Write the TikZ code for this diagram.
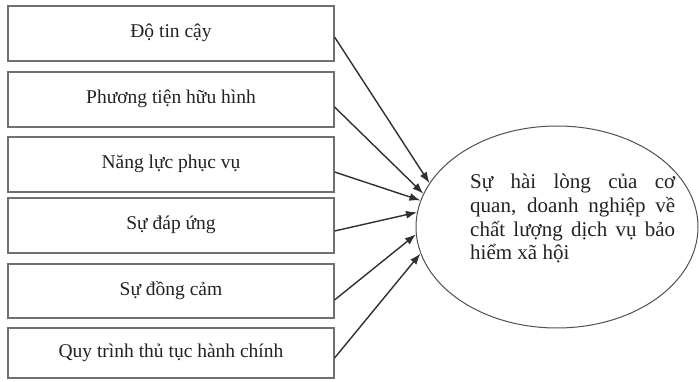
\documentclass[tikz,border=0pt]{standalone}
\usepackage{fontspec}
\setmainfont{Liberation Serif}
\usetikzlibrary{arrows.meta,shapes.geometric}
\definecolor{boxgray}{HTML}{707070}
\definecolor{inkgray}{HTML}{222222}
\definecolor{linkgray}{HTML}{303030}
\definecolor{rimgray}{HTML}{505050}
\newlength{\goalw}
\setlength{\goalw}{205pt}
\begin{document}
\begin{tikzpicture}[x=1pt,y=-1pt,
  factor/.style={draw=boxgray, line width=1.1pt, minimum width=326pt,
    inner sep=0pt, text height=13pt, text depth=4pt,
    font=\fontsize{19.5}{23.7}\selectfont, text=inkgray},
  link/.style={draw=linkgray, line width=1.4pt,
    -{Latex[length=11pt,width=8pt]}},
  goalshape/.style={draw=rimgray, line width=1pt, ellipse,
    minimum width=282pt, minimum height=202pt, inner sep=0pt},
  goaltextstyle/.style={inner sep=0pt, align=left, text=inkgray,
    font=\fontsize{21}{23.7}\selectfont},
]
\useasboundingbox (0,0) rectangle (699,382);

% factor boxes
\node[factor, minimum height=55pt] (f1) at (171,33.5)  {Độ tin cậy};
\node[factor, minimum height=55pt] (f2) at (171,99.5)  {Phương tiện hữu hình};
\node[factor, minimum height=55pt] (f3) at (171,164.5) {Năng lực phục vụ};
\node[factor, minimum height=55pt] (f4) at (171,225.5) {Sự đáp ứng};
\node[factor, minimum height=54pt] (f5) at (171,291)   {Sự đồng cảm};
\node[factor, minimum height=50pt] (f6) at (171,353)   {Quy trình thủ tục hành chính};

% outcome ellipse; the text block's base anchor sits on its last line
\node[goalshape] (goal) at (557,227) {};
\node[goaltextstyle, anchor=base west] (goaltext) at (470,260)
  {\makebox[\goalw][s]{Sự hài lòng của cơ}\\
   \makebox[\goalw][s]{quan, doanh nghiệp về}\\
   \makebox[\goalw][s]{chất lượng dịch vụ bảo}\\
   hiểm xã hội};

% arrows into the ellipse
\draw[link] ([yshift=-3.5pt]f1.east) -- (goal.161);
\draw[link] ([yshift=-7.5pt]f2.east) -- (goal.166);
\draw[link] ([yshift=-7.5pt]f3.east) -- (goal.169.5);
\draw[link] ([yshift=-5.5pt]f4.east) -- (goal.174);
\draw[link] ([yshift=-9pt]f5.east)   -- (goal.183);
\draw[link] ([yshift=-5pt]f6.east)   -- (goal.191.5);
\end{tikzpicture}
\end{document}
